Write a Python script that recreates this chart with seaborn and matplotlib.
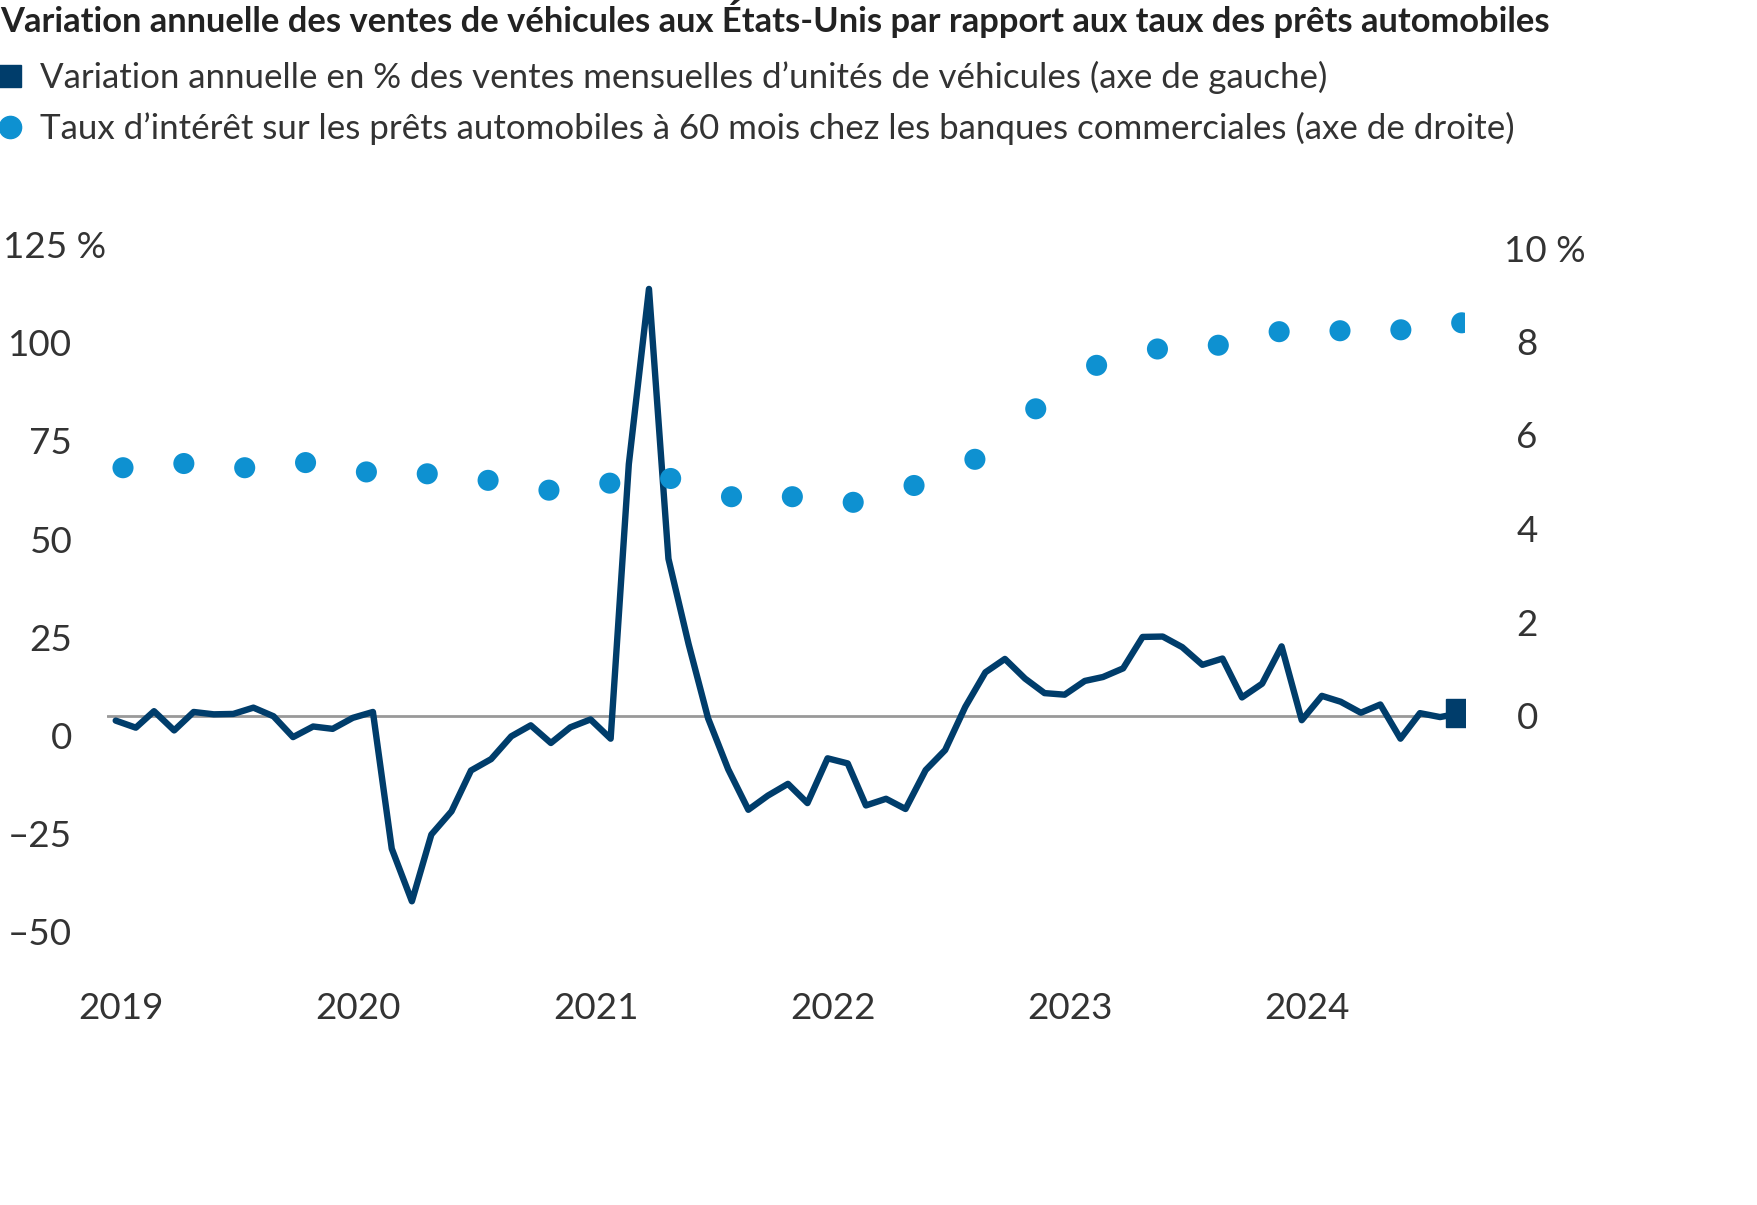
import numpy as np
import pandas as pd
import matplotlib
matplotlib.use("Agg")
import matplotlib.pyplot as plt
import matplotlib.transforms as mtransforms
from matplotlib.lines import Line2D
import seaborn as sns

# ---------------- data ----------------
sales_yoy = [
    -1.3, -3.1, 1.1, -3.8, 0.9, 0.3, 0.4, 2.0, -0.2, -5.5, -2.8, -3.4,          # 2019
    -0.6, 0.9, -33.9, -47.3, -30.3, -24.4, -14.0, -11.1, -5.3, -2.5, -7.0, -3.0,  # 2020
    -1.0, -5.9, 64.0, 108.6, 39.9, 18.2, -0.7, -13.7, -24.0, -20.4, -17.4, -22.3, # 2021
    -10.9, -12.2, -22.9, -21.2, -23.8, -13.9, -8.8, 2.2, 11.0, 14.4, 9.4, 5.7,   # 2022
    5.3, 8.8, 9.8, 12.0, 20.0, 20.1, 17.4, 12.9, 14.5, 4.6, 8.1, 17.6,           # 2023
    -1.2, 5.0, 3.5, 0.7, 2.8, -5.9, 0.6, -0.4, 0.6,                              # 2024
]
months = pd.date_range("2019-01-01", periods=len(sales_yoy), freq="MS")

loan_rate = [5.30, 5.39, 5.30, 5.41, 5.21, 5.17, 5.03, 4.82, 4.97, 5.07, 4.68, 4.68,
             4.56, 4.92, 5.48, 6.56, 7.49, 7.84, 7.92, 8.21, 8.23, 8.25, 8.40]
quarter_index = list(range(len(loan_rate)))

left_ticks = [-50, -25, 0, 25, 50, 75, 100, 125]
left_labels = ["–50", "–25", "0", "25", "50", "75", "100", "125 %"]
right_ticks = [0, 2, 4, 6, 8, 10]
right_labels = ["0", "2", "4", "6", "8", "10 %"]
year_labels = ["2019", "2020", "2021", "2022", "2023", "2024"]
year_ticks = pd.to_datetime([f"{y}-01-01" for y in year_labels])

title = "Variation annuelle des ventes de véhicules aux États-Unis par rapport aux taux des prêts automobiles"
label_sales = "Variation annuelle en % des ventes mensuelles d’unités de véhicules (axe de gauche)"
label_rate = "Taux d’intérêt sur les prêts automobiles à 60 mois chez les banques commerciales (axe de droite)"

# ---------------- style ----------------
NAVY = "#003D6B"
BLUE = "#0E91D1"
GRAY = "#999999"
TXT = "#333333"

sns.set_theme(style="white")
plt.rcParams["font.family"] = ["Lato", "DejaVu Sans"]

W, H = 1758, 1205
fig = plt.figure(figsize=(W / 100, H / 100), dpi=100)

ax_left, ax_right_px, ax_top, ax_bot = 107, 1465, 200, 960
rect = [ax_left / W, 1 - ax_bot / H, (ax_right_px - ax_left) / W, (ax_bot - ax_top) / H]

zero_px = 715.5
left_ppu = 3.928
right_ppu = 46.75

# ---------------- main (left) axis ----------------
ax = fig.add_axes(rect)
df = pd.DataFrame({"date": months, "sales": sales_yoy})
ax.axhline(0, color=GRAY, lw=2.0, zorder=1)
sns.lineplot(data=df, x="date", y="sales", ax=ax, color=NAVY, lw=4.6, zorder=3)
ax.plot(df["date"].iloc[-1:], df["sales"].iloc[-1:], marker="s", ms=20.5,
        color=NAVY, ls="none", zorder=4)

px_per_day = 19.77 / (365.25 / 12)
x0 = months[0] - pd.Timedelta(days=(115.7 - ax_left) / px_per_day)
x1 = months[0] + pd.Timedelta(days=(ax_right_px - 115.7) / px_per_day)
ax.set_xlim(x0, x1)
ax.set_ylim((zero_px - ax_bot) / left_ppu, (zero_px - ax_top) / left_ppu)

ax.set_yticks(left_ticks)
ax.set_yticklabels(left_labels)
ax.set_xticks(year_ticks)
ax.set_xticklabels(year_labels)
ax.set_xlabel("")
ax.set_ylabel("")
ax.tick_params(axis="y", length=0, pad=25, labelsize=26.5, labelcolor=TXT)
ax.tick_params(axis="x", length=0, pad=23, labelsize=26.5, labelcolor=TXT)
for s in ax.spines.values():
    s.set_visible(False)
ax.grid(False)

# left labels sit slightly below their gridline positions, as in the reference
for lab in ax.get_yticklabels():
    dx = 0.34 if lab.get_text().endswith("%") else 0.0
    off = mtransforms.ScaledTranslation(dx, -0.20, fig.dpi_scale_trans)
    lab.set_transform(lab.get_transform() + off)
for lab in ax.get_xticklabels():
    off = mtransforms.ScaledTranslation(0.05, 0, fig.dpi_scale_trans)
    lab.set_transform(lab.get_transform() + off)

# ---------------- right axis (loan rate) ----------------
axr = fig.add_axes(rect, frameon=False)
sns.scatterplot(x=quarter_index, y=loan_rate, ax=axr, color=BLUE, s=230,
                edgecolor="none", zorder=5)
step = (1461.7 - 123.0) / (len(loan_rate) - 1)
axr.set_xlim(-(123.0 - ax_left) / step, (len(loan_rate) - 1) + (ax_right_px - 1461.7) / step)
axr.set_ylim((zero_px - ax_bot) / right_ppu, (zero_px - ax_top) / right_ppu)
axr.set_xticks([])
axr.yaxis.tick_right()
axr.set_yticks(right_ticks)
axr.set_yticklabels(right_labels)
axr.tick_params(axis="y", length=0, pad=37, labelsize=26.5, labelcolor=TXT)
for lab in axr.get_yticklabels():
    if lab.get_text().endswith("%"):
        off = mtransforms.ScaledTranslation(-0.12, 0, fig.dpi_scale_trans)
        lab.set_transform(lab.get_transform() + off)
axr.grid(False)
for s in axr.spines.values():
    s.set_visible(False)

# ---------------- title & legend ----------------
fig.text(0.0, 1 - 19 / H, title, ha="left", va="center", fontsize=24.85,
         fontweight="bold", color="#222222")

handles = [
    Line2D([], [], marker="s", ls="none", color=NAVY, ms=15.5),
    Line2D([], [], marker="o", ls="none", color=BLUE, ms=16),
]
fig.legend(handles, [label_sales, label_rate], loc="upper left",
           bbox_to_anchor=(-0.002, 1 - 61 / H), frameon=False,
           prop={"size": 25.1}, labelcolor=TXT,
           handlelength=0.75, handletextpad=0.5, labelspacing=0.5,
           borderaxespad=0, borderpad=0)

fig.savefig("out.png", dpi=100, facecolor="white")
